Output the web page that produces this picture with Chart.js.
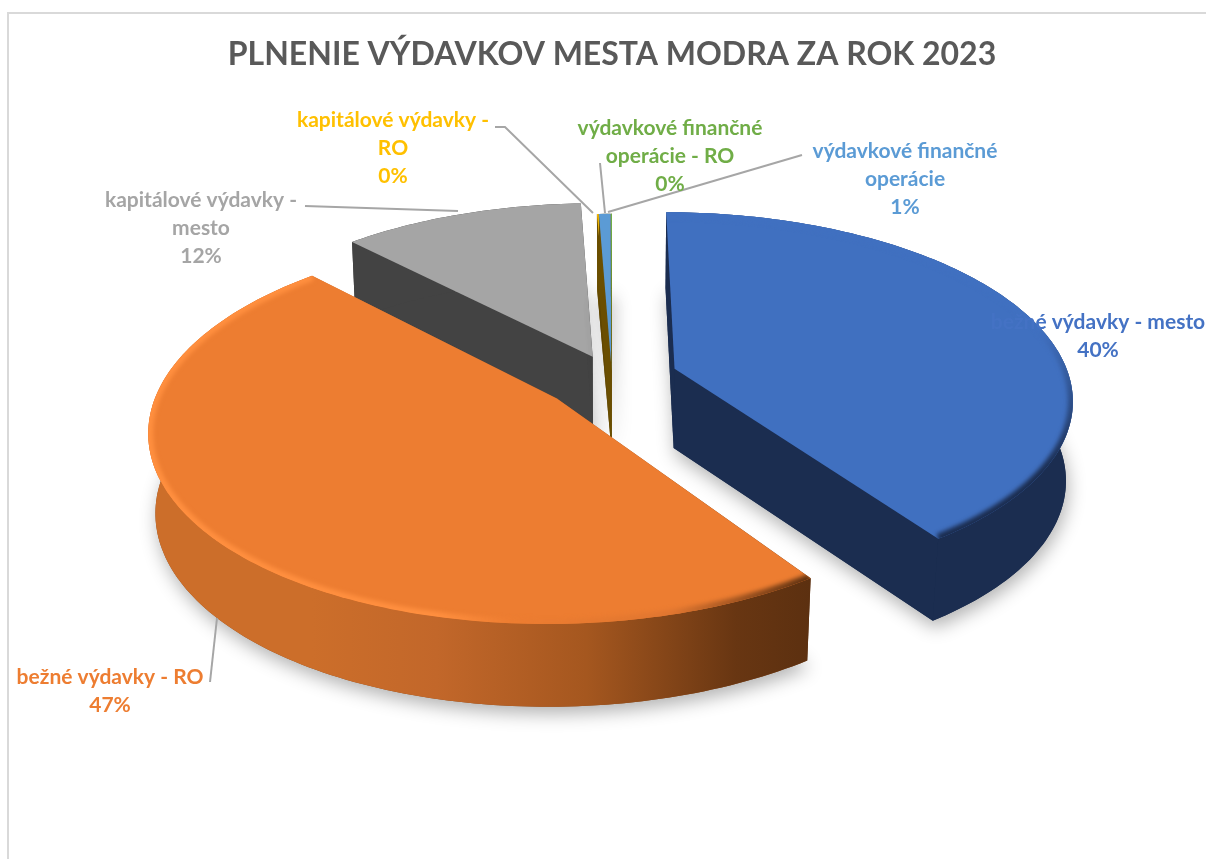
<!DOCTYPE html>
<html lang="sk">
<head>
<meta charset="utf-8">
<title>Plnenie výdavkov mesta Modra za rok 2023</title>
<script src="https://cdn.jsdelivr.net/npm/chart.js@4"></script>
<style>
  html, body { margin: 0; background: #fff; overflow: hidden; }
  #frame { position: absolute; left: 7px; top: 12px; width: 1300px; height: 900px; border-left: 2px solid #d9d9d9; border-top: 2px solid #d9d9d9; }
  #wrap { position: absolute; left: 0; top: 0; width: 1206px; height: 859px; }
</style>
</head>
<body>
<div id="frame"></div>
<div id="wrap"><canvas id="pie" width="1206" height="859"></canvas></div>
<script>
const chartTitle = 'PLNENIE VÝDAVKOV MESTA MODRA ZA ROK 2023';
const categories = ['bežné výdavky - mesto', 'bežné výdavky - RO', 'kapitálové výdavky - mesto', 'kapitálové výdavky - RO', 'výdavkové finančné operácie', 'výdavkové finančné operácie - RO'];
const shares = [40.4, 47.4, 11.52, 0.08, 0.55, 0.05];

const topColors = ['#4070c0', '#ed7d31', '#a5a5a5', '#ffc000', '#5b9bd5', '#70ad47'];
const sideColors = ['#1b2d50', '#8a4a1c', '#434343', '#6b4f00', '#6b4f00', '#6b4f00'];
const labelColors = ['#4472c4', '#ed7d31', '#a5a5a5', '#ffc000', '#5b9bd5', '#70ad47'];
const explode = [66, 70, 50, 15, 15, 15];

// where each label goes: centre x, first line y, and the wrapped lines
const labelLines = [
  ['bežné výdavky - mesto'],
  ['bežné výdavky - RO'],
  ['kapitálové výdavky -', 'mesto'],
  ['kapitálové výdavky -', 'RO'],
  ['výdavkové finančné', 'operácie'],
  ['výdavkové finančné', 'operácie - RO'],
];
const labelX = [1098, 110, 201, 393, 905, 670];
const labelY = [322, 677, 200, 120, 151, 128];
const leaderLines = [
  null,
  [[217, 618], [210, 682]],
  [[305, 206], [458, 211]],
  [[495, 127], [505, 127], [593, 213]],
  [[802, 155], [608, 212]],
  [[600, 163], [605, 213]],
];

// perspective of the disc
const tilt = 0.464;
const persp = 0.155;
const depthPersp = 0.015;
const depth = 80;

function project(arc, px, py, z) {
  const R = arc.outerRadius;
  const u = px / R;
  const v = py / R;
  const w = 1 - persp * v + depthPersp * z;
  return [arc.x + R * u / w, arc.y + R * tilt * v / w + depth * z / Math.sqrt(w)];
}

function rimPoints(arc, z) {
  const mid = (arc.startAngle + arc.endAngle) / 2;
  const off = arc.options.offset;
  const steps = Math.max(2, Math.ceil((arc.endAngle - arc.startAngle) / 0.02));
  const pts = [];
  for (let i = 0; i <= steps; i++) {
    const a = arc.startAngle + (arc.endAngle - arc.startAngle) * i / steps;
    pts.push(project(arc, off * Math.cos(mid) + arc.outerRadius * Math.cos(a), off * Math.sin(mid) + arc.outerRadius * Math.sin(a), z));
  }
  return pts;
}

function apexPoint(arc, z) {
  const mid = (arc.startAngle + arc.endAngle) / 2;
  const off = arc.options.offset;
  return project(arc, off * Math.cos(mid), off * Math.sin(mid), z);
}

function tracePath(ctx, pts) {
  ctx.beginPath();
  pts.forEach((p, i) => (i ? ctx.lineTo(p[0], p[1]) : ctx.moveTo(p[0], p[1])));
  ctx.closePath();
}

function sideFill(ctx, i, rim) {
  if (i !== 1) return sideColors[i];
  const g = ctx.createLinearGradient(rim[rim.length - 1][0], 0, rim[0][0], 0);
  g.addColorStop(0, '#cc6e2a');
  g.addColorStop(0.25, '#c2672a');
  g.addColorStop(0.55, '#a5571f');
  g.addColorStop(0.85, '#683612');
  g.addColorStop(1, '#5c3010');
  return g;
}

function drawBevel(ctx, i, rim, apex) {
  if (i > 1) return;
  ctx.save();
  tracePath(ctx, [apex, ...rim]);
  ctx.clip();
  let g;
  if (i === 0) {
    g = ctx.createLinearGradient(0, 330, 0, 470);
    g.addColorStop(0, '#4070c0');
    g.addColorStop(1, '#1b2d50');
  } else {
    g = ctx.createLinearGradient(rim[rim.length - 1][0], 0, rim[0][0], 0);
    g.addColorStop(0, '#ff8f3f');
    g.addColorStop(0.25, '#ff8f3f');
    g.addColorStop(0.4, '#ed7d31');
    g.addColorStop(0.72, '#e07630');
    g.addColorStop(1, '#5c3010');
  }
  ctx.beginPath();
  rim.forEach((p, k) => (k ? ctx.lineTo(p[0], p[1]) : ctx.moveTo(p[0], p[1])));
  ctx.strokeStyle = g;
  ctx.lineWidth = 10;
  ctx.filter = 'blur(2px)';
  ctx.stroke();
  ctx.restore();
}

const pie3d = {
  id: 'pie3d',
  beforeDatasetDraw(chart) {
    const ctx = chart.ctx;
    const arcs = chart.getDatasetMeta(0).data;
    // back to front, the big orange slice sits in front of everything
    [2, 3, 4, 5, 0, 1].forEach(i => {
      const arc = arcs[i];
      const top = rimPoints(arc, 0);
      const bottom = rimPoints(arc, 1);
      const apexTop = apexPoint(arc, 0);
      const apexBottom = apexPoint(arc, 1);
      const fill = sideFill(ctx, i, top);

      ctx.save();
      ctx.shadowColor = 'rgba(0,0,0,0.3)';
      ctx.shadowBlur = 18;
      ctx.shadowOffsetX = 2;
      ctx.shadowOffsetY = 7;
      ctx.fillStyle = sideColors[i];
      tracePath(ctx, [apexBottom, ...bottom]);
      ctx.fill();
      ctx.restore();

      ctx.fillStyle = fill;
      tracePath(ctx, [apexTop, top[0], bottom[0], apexBottom]);
      ctx.fill();
      tracePath(ctx, [apexTop, top[top.length - 1], bottom[bottom.length - 1], apexBottom]);
      ctx.fill();
      tracePath(ctx, [...top, ...bottom.slice().reverse()]);
      ctx.fill();

      ctx.fillStyle = arc.options.backgroundColor;
      tracePath(ctx, [apexTop, ...top]);
      ctx.fill();
      drawBevel(ctx, i, top, apexTop);
    });
    return false;
  },
  afterDatasetsDraw(chart) {
    const ctx = chart.ctx;
    const total = shares.reduce((sum, v) => sum + v, 0);
    ctx.save();
    ctx.strokeStyle = '#a6a6a6';
    ctx.lineWidth = 2;
    leaderLines.forEach(line => {
      if (!line) return;
      ctx.beginPath();
      line.forEach((p, k) => (k ? ctx.lineTo(p[0], p[1]) : ctx.moveTo(p[0], p[1])));
      ctx.stroke();
    });
    ctx.font = 'bold 21px Lato';
    ctx.textAlign = 'center';
    ctx.textBaseline = 'middle';
    categories.forEach((name, i) => {
      ctx.fillStyle = labelColors[i];
      const lines = [...labelLines[i], Math.round(shares[i] / total * 100) + '%'];
      lines.forEach((text, k) => ctx.fillText(text, labelX[i], labelY[i] + k * 28));
    });
    ctx.restore();
  },
};

new Chart(document.getElementById('pie'), {
  type: 'pie',
  data: {
    labels: categories,
    datasets: [{
      data: shares,
      backgroundColor: topColors,
      borderWidth: 0,
      offset: explode,
    }],
  },
  options: {
    responsive: false,
    animation: false,
    radius: 395,
    layout: { padding: { left: 18, top: 15, bottom: 177 } },
    plugins: {
      legend: { display: false },
      tooltip: { enabled: false },
      title: {
        display: true,
        text: chartTitle,
        color: '#595959',
        font: { family: 'Lato', size: 32, weight: 'bold', lineHeight: 1.2 },
        padding: { top: 20, bottom: 0 },
      },
    },
  },
  plugins: [pie3d],
});
</script>
</body>
</html>
